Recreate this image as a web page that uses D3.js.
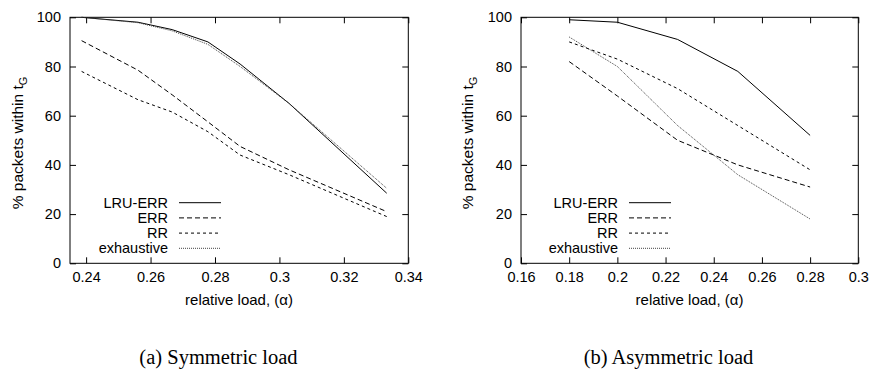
<!DOCTYPE html>
<html>
<head>
<meta charset="utf-8">
<script src="https://cdn.jsdelivr.net/npm/d3@7"></script>
<style>
  body { margin: 0; background: #fff; }
  svg text { font-family: "Liberation Sans", Arial, sans-serif; fill: #000; }
  .caption { font-family: "Liberation Serif", "Times New Roman", serif; }
</style>
</head>
<body>
<div id="chart"></div>
<script>
// series names, in legend order
const seriesNames = ['LRU-ERR', 'ERR', 'RR', 'exhaustive'];

// (a) symmetric load
const symLoad = [0.2386, 0.2561, 0.2667, 0.2778, 0.2878, 0.3030, 0.3333];
const symLruErr = [100, 98, 95, 90, 81, 65, 28.5];
const symErr = [90.5, 78.5, 68.5, 57.5, 47.5, 38, 21];
const symRr = [78, 66.5, 61.5, 53.5, 44, 36, 19];
const symExhaustive = [100, 97.8, 94.5, 89, 80, 65, 30.5];
const symTicks = [0.24, 0.26, 0.28, 0.3, 0.32, 0.34];

// (b) asymmetric load
const asymLoad = [0.18, 0.2, 0.225, 0.25, 0.28];
const asymLruErr = [99, 98, 91, 78, 52];
const asymErr = [82, 68, 50, 40, 31];
const asymRr = [90, 83, 71, 56, 38];
const asymExhaustive = [92, 80, 56, 36, 18];
const asymTicks = [0.16, 0.18, 0.2, 0.22, 0.24, 0.26, 0.28, 0.3];

const yTicks = [0, 20, 40, 60, 80, 100];

// gnuplot-ish line types
const dashes = [null, '5,3', '3,3', '1,1'];
const strokes = ['#000', '#000', '#000', '#444'];

const svg = d3.select('#chart').append('svg')
  .attr('width', 871)
  .attr('height', 370);

function fmt(d) { return String(+d.toFixed(2)); }

function drawPanel(opt) {
  const x = d3.scaleLinear().domain(opt.xDomain).range([opt.left, opt.right]);
  const y = d3.scaleLinear().domain([0, 100]).range([263.3, 17.3]);

  const g = svg.append('g');

  // ticks + labels
  g.append('g')
    .attr('transform', 'translate(0,' + y(0) + ')')
    .call(d3.axisBottom(x).tickValues(opt.ticks).tickFormat(fmt)
      .tickSizeInner(-6).tickSizeOuter(0).tickPadding(8.5))
    .call(a => a.select('.domain').remove())
    .call(a => a.selectAll('text').style('font-size', '14.5px'));

  g.append('g')
    .attr('transform', 'translate(0,' + y(100) + ')')
    .call(d3.axisTop(x).tickValues(opt.ticks).tickFormat('')
      .tickSizeInner(-6).tickSizeOuter(0))
    .call(a => a.select('.domain').remove());

  g.append('g')
    .attr('transform', 'translate(' + opt.left + ',0)')
    .call(d3.axisLeft(y).tickValues(yTicks)
      .tickSizeInner(-6).tickSizeOuter(0).tickPadding(9))
    .call(a => a.select('.domain').remove())
    .call(a => a.selectAll('text').style('font-size', '14.5px'));

  g.append('g')
    .attr('transform', 'translate(' + opt.right + ',0)')
    .call(d3.axisRight(y).tickValues(yTicks).tickFormat('')
      .tickSizeInner(-6).tickSizeOuter(0))
    .call(a => a.select('.domain').remove());

  g.selectAll('.tick line').attr('stroke', '#000');
  g.selectAll('.tick text').attr('fill', '#000');

  // frame
  g.append('rect')
    .attr('x', opt.left).attr('y', y(100))
    .attr('width', opt.right - opt.left).attr('height', y(0) - y(100))
    .attr('fill', 'none').attr('stroke', '#000');

  // lines
  const line = d3.line()
    .x(d => x(d[0]))
    .y(d => y(d[1]));

  opt.series.forEach((vals, i) => {
    g.append('path')
      .datum(opt.load.map((l, j) => [l, vals[j]]))
      .attr('d', line)
      .attr('fill', 'none')
      .attr('stroke', strokes[i])
      .attr('stroke-width', 1)
      .attr('stroke-dasharray', dashes[i]);
  });

  // legend
  seriesNames.forEach((name, i) => {
    const ly = 202.7 + i * 15.2;
    g.append('text')
      .attr('x', opt.legendX).attr('y', ly)
      .attr('dy', '0.35em')
      .attr('text-anchor', 'end')
      .style('font-size', '14.5px')
      .text(name);
    g.append('line')
      .attr('x1', opt.legendX + 11).attr('x2', opt.legendX + 53)
      .attr('y1', ly).attr('y2', ly)
      .attr('stroke', strokes[i])
      .attr('stroke-dasharray', dashes[i]);
  });

  // axis titles
  g.append('text')
    .attr('x', opt.xLabelX).attr('y', 305)
    .attr('text-anchor', 'middle')
    .style('font-size', '15px')
    .text('relative load, (\u03b1)');

  const yl = g.append('text')
    .attr('transform', 'translate(' + opt.yLabelX + ',143) rotate(-90)')
    .attr('text-anchor', 'middle')
    .style('font-size', '15.5px');
  yl.append('tspan').text('% packets within t');
  yl.append('tspan').attr('dy', 4).style('font-size', '11px').text('G');

  g.append('text')
    .attr('class', 'caption')
    .attr('x', opt.captionX).attr('y', 364)
    .attr('text-anchor', 'middle')
    .style('font-size', '20.5px')
    .text(opt.caption);
}

drawPanel({
  left: 70, right: 408.3,
  xDomain: [0.235, 0.34],
  ticks: symTicks,
  load: symLoad,
  series: [symLruErr, symErr, symRr, symExhaustive],
  legendX: 168,
  xLabelX: 239,
  yLabelX: 23,
  captionX: 218.5,
  caption: '(a) Symmetric load'
});

drawPanel({
  left: 521, right: 858.3,
  xDomain: [0.16, 0.3],
  ticks: asymTicks,
  load: asymLoad,
  series: [asymLruErr, asymErr, asymRr, asymExhaustive],
  legendX: 618,
  xLabelX: 689.5,
  yLabelX: 473,
  captionX: 668.5,
  caption: '(b) Asymmetric load'
});
</script>
</body>
</html>
